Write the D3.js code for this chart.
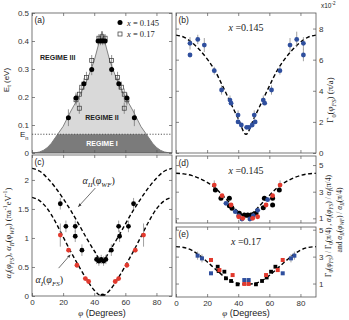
<!DOCTYPE html>
<html>
<head>
<meta charset="utf-8">
<script src="https://cdn.jsdelivr.net/npm/d3@7"></script>
<style>
body { margin: 0; background: #fff; }
svg { display: block; }
text { font-family: "Liberation Sans", Arial, sans-serif; fill: #222; }
.axis line { stroke: #555; stroke-width: 0.7; }
.axis text { font-size: 8px; fill: #333; }
.m { font-family: "Liberation Serif", "DejaVu Serif", serif; font-style: italic; }
</style>
</head>
<body>
<script>
// ---------- data ----------
let phiTicks = [0, 20, 40, 60, 80];
let phiGrid = [0, 5, 10, 15, 20, 25, 30, 35, 40, 45, 50, 55, 60, 65, 70, 75, 80, 85, 90];

// (a) regime boundary and gap energies
let En = 0.067;
let phiEdge = [0, 2.5, 5, 7.5, 10, 12.5, 15, 17.5, 20, 25, 30, 35, 40, 45, 50, 55, 60, 65, 70, 72.5, 75, 77.5, 80, 82.5, 85, 87.5, 90];
let eEdge = [0, 0.001, 0.004, 0.01, 0.02, 0.035, 0.055, 0.075, 0.095, 0.15, 0.2, 0.255, 0.33, 0.435, 0.33, 0.255, 0.2, 0.15, 0.095, 0.075, 0.055, 0.035, 0.02, 0.01, 0.004, 0.001, 0];
let aTicks = [0, 0.1, 0.2, 0.3, 0.4, 0.5];
let phiA145 = [23.4, 28.3, 33.4, 38.4, 42.5, 44, 45.5, 47, 51.2, 55.8, 61, 65.8];
let eA145 = [0.126, 0.196, 0.247, 0.298, 0.40, 0.40, 0.40, 0.40, 0.298, 0.247, 0.196, 0.126];
let errA145 = [0.03, 0.02, 0.02, 0.02, 0.015, 0.015, 0.015, 0.015, 0.02, 0.02, 0.02, 0.03];
let phiA17 = [28.3, 30.4, 30.5, 32, 35, 38.4, 43, 45, 47, 51.2, 55, 57.5, 59.3, 61, 59.3];
let eA17 = [0.19, 0.16, 0.21, 0.235, 0.27, 0.33, 0.41, 0.415, 0.41, 0.33, 0.27, 0.235, 0.21, 0.19, 0.16];
let errA17 = [0.02, 0.02, 0.02, 0.02, 0.02, 0.02, 0.015, 0.015, 0.015, 0.02, 0.02, 0.02, 0.02, 0.02, 0.02];

// (b) Gamma_0, units of 1e-2 pi/a
let bTicks = [0, 2, 4, 6, 8];
let phiB = [9, 9, 14, 18.2, 24.6, 29.3, 34.7, 35.4, 39.9, 39.9, 42, 45.4, 46.9, 49, 50.3, 50.9, 56.1, 57, 61.4, 66.8, 73.3, 77.6, 81.9, 81.9];
let gB = [7.05, 6.3, 7.3, 6.94, 5.29, 4.05, 3.4, 3.2, 2.44, 2.0, 1.8, 1.65, 1.65, 1.8, 2.44, 2.0, 3.4, 3.2, 4.05, 5.29, 6.94, 7.3, 7.05, 6.3];
let errB = [0.4, 0, 0.3, 0.45, 0.25, 0.3, 0.3, 0, 0.3, 0, 0, 0, 0, 0, 0.3, 0, 0.3, 0, 0.3, 0.25, 0.45, 0.5, 0.4, 0.4];
let fitB = [7.58, 7.45, 7.12, 6.65, 6.05, 5.3, 4.3, 3.25, 2.2, 1.2, 2.2, 3.25, 4.3, 5.3, 6.05, 6.65, 7.12, 7.45, 7.58];

// (c) alpha_I (red) and alpha_II (black)
let cTicks = [0, 0.5, 1, 1.5, 2];
let fitII = [2.2, 2.15, 2.03, 1.87, 1.68, 1.47, 1.24, 1.0, 0.78, 0.6, 0.78, 1.0, 1.24, 1.47, 1.68, 1.87, 2.03, 2.15, 2.2];
let fitI = [1.7, 1.64, 1.5, 1.28, 1.02, 0.76, 0.52, 0.29, 0.1, 0, 0.1, 0.29, 0.52, 0.76, 1.02, 1.28, 1.5, 1.64, 1.7];
let phiCI = [18.2, 23.5, 28.9, 34.3, 36.4, 53.5, 55.7, 61, 66.4, 71.7];
let aCI = [1.05, 0.79, 0.53, 0.30, 0.25, 0.25, 0.30, 0.53, 0.79, 1.05];
let errCI = [0.2, 0.04, 0.04, 0.03, 0.03, 0.03, 0.03, 0.04, 0.04, 0.2];
let phiCII = [18.2, 21.8, 27.8, 27.8, 32.1, 41.5, 43, 44.5, 46, 47.5, 45.4, 51, 55.7, 56.3, 62, 65.3];
let aCII = [1.59, 1.2, 1.2, 1.03, 0.79, 0.63, 0.6, 0.63, 0.6, 0.63, 0.0, 0.79, 1.2, 1.03, 1.2, 1.59];
let errCII = [0.1, 0.1, 0.1, 0.1, 0.1, 0.08, 0.08, 0.08, 0.08, 0.08, 0, 0.1, 0.1, 0.1, 0.1, 0.1];

// (d) x = 0.145, normalised to pi/4
let deTicks = [1, 3, 5];
let fitD = [4.38, 4.34, 4.22, 4.0, 3.7, 3.3, 2.72, 2.1, 1.5, 1.1, 1.5, 2.1, 2.72, 3.3, 3.7, 4.0, 4.22, 4.34, 4.38];
let phiDr = [24.6, 29.6, 35.4, 40.3, 42.9, 49.3, 52.5, 57.9, 62.1, 66.9];
let vDr = [3.5, 2.7, 2.0, 1.12, 1.0, 1.0, 1.12, 2.0, 2.7, 3.5];
let errDr = [0.35, 0, 0, 0, 0, 0, 0, 0, 0, 0.35];
let phiDk = [25.3, 28.9, 34.3, 34.3, 36, 40.7, 43.9, 46.1, 48.2, 51.4, 56.1, 56.8, 62.1, 62.1, 66.4];
let vDk = [3.13, 2.5, 2.5, 1.95, 1.75, 1.38, 1.25, 1.25, 1.25, 1.38, 1.8, 2.5, 2.5, 2.0, 3.13];
let phiDb = [32.1, 38.1, 40.3, 42.4, 47.5, 49.7, 52.5, 58.9];
let vDb = [2.13, 1.5, 1.2, 0.95, 0.95, 1.2, 1.6, 2.4];

// (e) x = 0.17, normalised to pi/4
let fitE = [3.74, 3.68, 3.48, 3.1, 2.62, 2.1, 1.6, 1.2, 1.0, 0.95, 1.0, 1.2, 1.6, 2.1, 2.62, 3.1, 3.48, 3.68, 3.74];
let phiEb = [13.9, 16.7, 22.5, 43.9, 46.7, 68.6, 73.9, 76.1];
let vEb = [3.07, 2.87, 1.76, 1.26, 1.26, 1.76, 2.87, 3.07];
let errEb = [0.3, 0.3, 0, 0, 0, 0, 0.3, 0.3];
let phiEr = [22.5, 27.9, 36.4, 43.9, 46.7, 57.9, 65.4, 68.6];
let vEr = [2.75, 2.0, 1.63, 0.97, 0.97, 1.63, 2.0, 2.75];
let phiEk = [26.8, 27.4, 31.1, 32.1, 35.4, 39.6, 51.4, 55.3, 58.3, 61.1, 63.9];
let vEk = [2.25, 1.93, 1.88, 1.39, 1.19, 0.94, 0.94, 1.19, 1.45, 1.88, 2.25];

// ---------- drawing ----------
let red = "#e23a2e", blue = "#2f4f9e";

let svg = d3.select("body").append("svg")
	.attr("width", 349)
	.attr("height", 320);

// a panel = its own pair of scales sharing phi 0..90
function makePanel(x0, x1, y0, y1, yDom) {
	let x = d3.scaleLinear().domain([0, 90]).range([x0, x1]);
	let y = d3.scaleLinear().domain(yDom).range([y1, y0]);
	let g = svg.append("g");
	let id = "clip" + Math.round(x0) + Math.round(y0);
	svg.append("clipPath").attr("id", id).append("rect")
		.attr("x", x0).attr("y", y0).attr("width", x1 - x0).attr("height", y1 - y0);
	let plot = g.append("g").attr("clip-path", "url(#" + id + ")");
	return {g: g, plot: plot, x: x, y: y};
}

// boxed frame with inward ticks on every side
function drawAxes(p, yTicks, side, xLab) {
	let [x0, x1] = p.x.range(), [y1, y0] = p.y.range();
	let put = function(gen, tx, ty, labels) {
		let a = p.g.append("g").attr("class", "axis")
			.attr("transform", "translate(" + tx + "," + ty + ")")
			.call(gen.tickSize(-3).tickPadding(3));
		a.select(".domain").remove();
		if (!labels) a.selectAll("text").remove();
	};
	put(d3.axisBottom(p.x).tickValues(phiTicks).tickFormat(d3.format("d")), 0, y1, xLab);
	put(d3.axisTop(p.x).tickValues(phiTicks), 0, y0, false);
	put(d3.axisLeft(p.y).tickValues(yTicks).tickFormat(d3.format("~g")), x0, 0, side == "left");
	put(d3.axisRight(p.y).tickValues(yTicks).tickFormat(d3.format("~g")), x1, 0, side == "right");
	p.g.append("rect")
		.attr("x", x0).attr("y", y0).attr("width", x1 - x0).attr("height", y1 - y0)
		.attr("fill", "none").attr("stroke", "#555").attr("stroke-width", 0.8);
}

function dashed(p, vals) {
	let line = d3.line()
		.curve(d3.curveMonotoneX)
		.x(function(d, i) { return p.x(phiGrid[i]); })
		.y(function(d) { return p.y(d); });
	p.plot.append("path").datum(vals)
		.attr("d", line)
		.attr("fill", "none").attr("stroke", "#000")
		.attr("stroke-width", 1.4).attr("stroke-dasharray", "4,2.5");
}

function errorBars(p, xs, ys, errs, col) {
	p.plot.append("g").selectAll("line")
		.data(xs.map(function(d, i) { return [d, ys[i], errs[i]]; }).filter(function(d) { return d[2] > 0; }))
		.enter().append("line")
			.attr("x1", function(d) { return p.x(d[0]); })
			.attr("x2", function(d) { return p.x(d[0]); })
			.attr("y1", function(d) { return p.y(d[1] - d[2]); })
			.attr("y2", function(d) { return p.y(d[1] + d[2]); })
			.attr("stroke", col || "#8a8a8a").attr("stroke-width", 0.8);
}

function dots(p, xs, ys, col, r) {
	p.plot.append("g").selectAll("circle")
		.data(xs.map(function(d, i) { return [d, ys[i]]; }))
		.enter().append("circle")
			.attr("cx", function(d) { return p.x(d[0]); })
			.attr("cy", function(d) { return p.y(d[1]); })
			.attr("r", r || 2.4)
			.attr("fill", col);
}

function squares(p, xs, ys, fill, stroke, s) {
	s = s || 4.2;
	p.plot.append("g").selectAll("rect")
		.data(xs.map(function(d, i) { return [d, ys[i]]; }))
		.enter().append("rect")
			.attr("x", function(d) { return p.x(d[0]) - s / 2; })
			.attr("y", function(d) { return p.y(d[1]) - s / 2; })
			.attr("width", s).attr("height", s)
			.attr("fill", fill).attr("stroke", stroke || "none").attr("stroke-width", 0.7);
}

// text with sub/superscripts: parts = [text, "sub"|"sup"|"", italic?]
function rich(t, parts, fs) {
	let shift = 0;
	parts.forEach(function(pt) {
		let target = pt[1] == "sub" ? fs * 0.3 : pt[1] == "sup" ? -fs * 0.42 : 0;
		t.append("tspan")
			.attr("dy", target - shift)
			.attr("font-size", pt[1] ? fs * 0.7 : fs)
			.attr("class", pt[2] ? "m" : null)
			.text(pt[0]);
		shift = target;
	});
	return t;
}

function panelTag(p, s) {
	p.g.append("text").attr("x", p.x.range()[0] + 2.5).attr("y", p.y.range()[1] + 10)
		.attr("font-size", 8.5).text(s);
}

function xEquals(p, s) {
	let t = p.g.append("text")
		.attr("x", p.x(45)).attr("y", p.y.range()[1] + 18)
		.attr("text-anchor", "middle");
	rich(t, [["x", "", 1], [" =" + s, "", 0]], 10).selectAll("tspan")
		.attr("font-family", "Liberation Serif, serif");
}

// ===== (a) =====
let pa = makePanel(32, 172, 13, 153, [0, 0.5]);
let edge = d3.area()
	.x(function(d, i) { return pa.x(phiEdge[i]); })
	.y0(pa.y(0))
	.y1(function(d) { return pa.y(d); });
svg.append("clipPath").attr("id", "under").append("path").datum(eEdge).attr("d", edge);
pa.plot.append("path").datum(eEdge).attr("d", edge)
	.attr("fill", "#d9d9d9").attr("stroke", "#555").attr("stroke-width", 0.7);
pa.plot.append("rect")
	.attr("clip-path", "url(#under)")
	.attr("x", pa.x(0)).attr("y", pa.y(En))
	.attr("width", pa.x(90) - pa.x(0)).attr("height", pa.y(0) - pa.y(En))
	.attr("fill", "#7b7b7b");
pa.plot.append("line")
	.attr("x1", pa.x(0)).attr("x2", pa.x(90))
	.attr("y1", pa.y(En)).attr("y2", pa.y(En))
	.attr("stroke", "#444").attr("stroke-width", 0.9).attr("stroke-dasharray", "1.2,1.6");
errorBars(pa, phiA17, eA17, errA17, "#777");
errorBars(pa, phiA145, eA145, errA145, "#777");
squares(pa, phiA17, eA17, "none", "#333", 4);
dots(pa, phiA145, eA145, "#000", 2.5);
drawAxes(pa, aTicks, "left", false);
panelTag(pa, "(a)");
pa.g.append("text").attr("x", 40).attr("y", 60).attr("font-size", 7).attr("font-weight", "bold").text("REGIME III");
pa.g.append("text").attr("x", pa.x(45)).attr("y", pa.y(0.118)).attr("text-anchor", "middle")
	.attr("font-size", 7).attr("font-weight", "bold").text("REGIME II");
pa.g.append("text").attr("x", pa.x(45)).attr("y", pa.y(0.025)).attr("text-anchor", "middle")
	.attr("font-size", 7).attr("font-weight", "bold").style("fill", "#fff").text("REGIME I");
rich(pa.g.append("text").attr("x", 20).attr("y", pa.y(En) + 3), [["E", ""], ["n", "sub"]], 8);
rich(pa.g.append("text").attr("transform", "translate(9,80) rotate(-90)").attr("text-anchor", "middle"),
	[["E", ""], ["t", "sub"], [" (eV)", ""]], 8);
// legend
pa.g.append("circle").attr("cx", 120).attr("cy", 22.5).attr("r", 2.5).attr("fill", "#000");
pa.g.append("rect").attr("x", 118).attr("y", 32).attr("width", 4).attr("height", 4)
	.attr("fill", "none").attr("stroke", "#333").attr("stroke-width", 0.7);
rich(pa.g.append("text").attr("x", 127).attr("y", 25.5), [["x", "", 1], [" = 0.145", "", 0]], 8.5)
	.selectAll("tspan").attr("font-family", "Liberation Serif, serif");
rich(pa.g.append("text").attr("x", 127).attr("y", 37), [["x", "", 1], [" = 0.17", "", 0]], 8.5)
	.selectAll("tspan").attr("font-family", "Liberation Serif, serif");

// ===== (b) =====
let pb = makePanel(176, 316, 13, 153, [0, 9]);
dashed(pb, fitB);
errorBars(pb, phiB, gB, errB);
dots(pb, phiB, gB, blue, 2.4);
drawAxes(pb, bTicks, "right", false);
panelTag(pb, "(b)");
xEquals(pb, "0.145");
rich(pb.g.append("text").attr("x", 321).attr("y", 8), [["x10", ""], ["-2", "sup"]], 6.5);
rich(pb.g.append("text").attr("transform", "translate(333,100) rotate(-90)").attr("text-anchor", "middle"),
	[["Γ", "", 0], ["0", "sub", 0], ["(", "", 0], ["φ", "", 1], ["FS", "sub", 1], [")  (π/a)", "", 0]], 9)
	.selectAll("tspan").attr("font-family", "Liberation Serif, serif");

// ===== (c) =====
let pc = makePanel(32, 172, 155, 296, [0, 2.43]);
dashed(pc, fitII);
dashed(pc, fitI);
errorBars(pc, phiCII, aCII, errCII);
errorBars(pc, phiCI, aCI, errCI);
dots(pc, phiCII, aCII, "#000", 2.4);
dots(pc, phiCI, aCI, red, 2.4);
drawAxes(pc, cTicks, "left", true);
panelTag(pc, "(c)");

let mathFont = "Liberation Serif, serif";
rich(pc.g.append("text").attr("x", pc.x(32.5)).attr("y", pc.y(1.93)),
	[["α", "", 1], ["II", "sub", 1], ["(", "", 0], ["φ", "", 1], ["WF", "sub", 1], [")", "", 0]], 10)
	.selectAll("tspan").attr("font-family", mathFont);
rich(pc.g.append("text").attr("x", pc.x(2.2)).attr("y", pc.y(0.22)),
	[["α", "", 1], ["I", "sub", 1], ["(", "", 0], ["φ", "", 1], ["FS", "sub", 1], [")", "", 0]], 10)
	.selectAll("tspan").attr("font-family", mathFont);

svg.append("defs").append("marker")
	.attr("id", "arr").attr("viewBox", "0 0 10 10").attr("refX", 9).attr("refY", 5)
	.attr("markerWidth", 5).attr("markerHeight", 5).attr("orient", "auto")
	.append("path").attr("d", "M0,1L10,5L0,9z").attr("fill", "#333");
pc.g.append("line")
	.attr("x1", pc.x(40.7)).attr("y1", pc.y(1.86)).attr("x2", pc.x(29.8)).attr("y2", pc.y(1.54))
	.attr("stroke", "#333").attr("stroke-width", 0.7).attr("marker-end", "url(#arr)");
pc.g.append("line")
	.attr("x1", pc.x(17.1)).attr("y1", pc.y(0.48)).attr("x2", pc.x(24.6)).attr("y2", pc.y(0.71))
	.attr("stroke", "#333").attr("stroke-width", 0.7).attr("marker-end", "url(#arr)");

rich(pc.g.append("text").attr("transform", "translate(11,233) rotate(-90)").attr("text-anchor", "middle"),
	[["α", "", 1], ["I", "sub", 1], ["(", "", 0], ["φ", "", 1], ["FS", "sub", 1], ["), ", "", 0],
	 ["α", "", 1], ["II", "sub", 1], ["(", "", 0], ["φ", "", 1], ["WF", "sub", 1], [")  (πa", "", 0],
	 ["-1", "sup", 0], ["eV", "", 0], ["-1", "sup", 0], [")", "", 0]], 8.5)
	.selectAll("tspan").attr("font-family", mathFont);

// ===== (d) =====
let pd = makePanel(176, 316, 156, 223, [0.65, 5.68]);
dashed(pd, fitD);
errorBars(pd, phiDr, vDr, errDr);
dots(pd, phiDk, vDk, "#000", 2.5);
dots(pd, phiDb, vDb, blue, 2.4);
dots(pd, phiDr, vDr, red, 2.4);
drawAxes(pd, deTicks, "right", false);
panelTag(pd, "(d)");
xEquals(pd, "0.145");

// ===== (e) =====
let pe = makePanel(176, 316, 227, 297, [0, 5.2]);
dashed(pe, fitE);
errorBars(pe, phiEb, vEb, errEb);
squares(pe, phiEk, vEk, "#000", null, 3.8);
squares(pe, phiEr, vEr, red, null, 4);
squares(pe, phiEb, vEb, blue, null, 4);
drawAxes(pe, deTicks, "right", true);
panelTag(pe, "(e)");
xEquals(pe, "0.17");

rich(svg.append("text").attr("transform", "translate(331,226) rotate(-90)").attr("text-anchor", "middle"),
	[["Γ", "", 0], ["0", "sub", 0], ["(", "", 0], ["φ", "", 1], ["FS", "sub", 1], [") / Γ", "", 0], ["0", "sub", 0],
	 ["(π/4) ,  ", "", 0], ["α", "", 1], ["I", "sub", 1], ["(", "", 0], ["φ", "", 1], ["FS", "sub", 1],
	 [") / ", "", 0], ["α", "", 1], ["I", "sub", 1], ["(π/4)", "", 0]], 7.5)
	.selectAll("tspan").attr("font-family", mathFont);
rich(svg.append("text").attr("transform", "translate(342,220) rotate(-90)").attr("text-anchor", "middle"),
	[["and  ", "", 0], ["α", "", 1], ["II", "sub", 1], ["(", "", 0], ["φ", "", 1], ["WF", "sub", 1],
	 [") / ", "", 0], ["α", "", 1], ["II", "sub", 1], ["(π/4)", "", 0]], 7.5)
	.selectAll("tspan").attr("font-family", mathFont);

// x labels
[pc, pe].forEach(function(p) {
	rich(p.g.append("text").attr("x", p.x(45)).attr("y", 316).attr("text-anchor", "middle"),
		[["φ", "", 1], ["  (Degrees)", "", 0]], 9);
});
</script>
</body>
</html>
